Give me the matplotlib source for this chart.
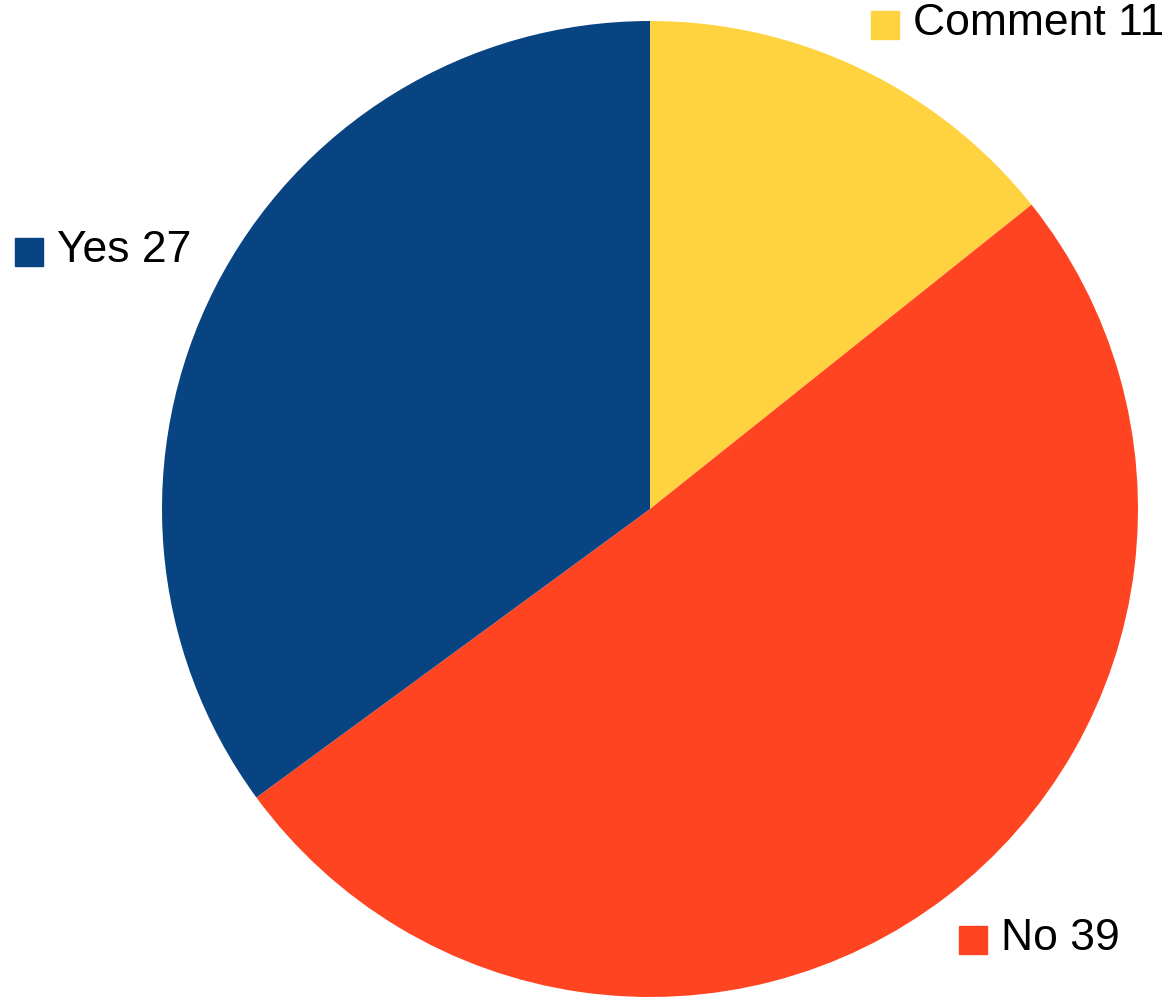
import matplotlib.pyplot as plt

labels = ["Comment", "No", "Yes"]
values = [11, 39, 27]
colors = ["#FFD23F", "#FF4422", "#084482"]

W, H = 1168, 997
cx, cy, r = 650, 509, 488

fig = plt.figure(figsize=(W / 100, H / 100), dpi=100)
ax = fig.add_axes([0, 0, 1, 1])
ax.pie(values, colors=colors, startangle=90, counterclock=False,
       radius=1, center=(0, 0), wedgeprops={"linewidth": 0})
ax.set_xlim(-cx / r, (W - cx) / r)
ax.set_ylim(-(H - cy) / r, cy / r)
ax.set_aspect("auto")
ax.axis("off")

# label positions in pixels (square centre)
label_pos = [(885, 25), (973, 940), (29, 252)]
for (px, py), lab, val, col in zip(label_pos, labels, values, colors):
    fx, fy = px / W, 1 - py / H
    fig.patches.append(plt.Rectangle((fx - 14 / W, fy - 14 / H), 28 / W, 28 / H,
                                     transform=fig.transFigure, color=col))
    fig.text(fx + 28 / W, fy + 2 / H, f"{lab} {val}", fontsize=32, family="Liberation Sans",
             va="center", ha="left")

fig.savefig("out.png", dpi=100)
